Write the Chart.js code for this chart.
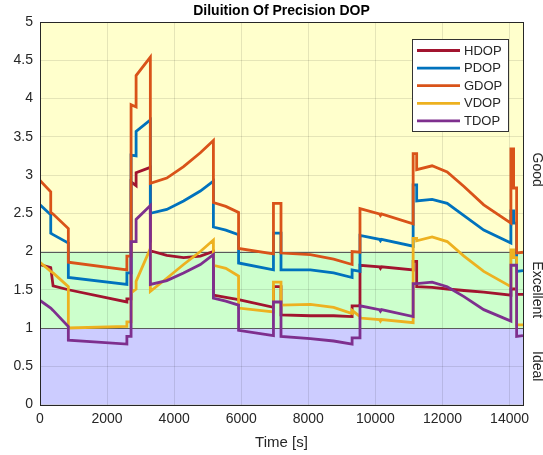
<!DOCTYPE html>
<html>
<head>
<meta charset="utf-8">
<script src="https://cdn.jsdelivr.net/npm/chart.js@4/dist/chart.umd.min.js"></script>
<style>
  html, body { margin: 0; padding: 0; background: #fff; }
  #wrap { width: 543px; height: 455px; }
</style>
</head>
<body>
<div id="wrap"><canvas id="dopChart" width="543" height="455"></canvas></div>
<script>
// time stamps [s] (repeated value = vertical step)
var timeS = [0, 320, 320, 390, 845, 845, 2590, 2590, 2715, 2715, 2865, 2865, 3290, 3290,
  3780, 4280, 4780, 5170, 5170, 5540, 5920, 5920, 6960, 6960, 7185, 7185, 8060, 8755,
  9305, 9305, 9540, 9540, 10120, 10150, 10180, 11125, 11125, 11230, 11230, 11690, 12140,
  12640, 13230, 14040, 14040, 14120, 14120, 14210, 14210, 14400];

var hdop = [1.83, 1.79, 1.79, 1.55, 1.50, 1.50, 1.34, 1.38, 1.38, 2.91, 2.86, 3.03, 3.10, 2.01,
  1.95, 1.92, 1.94, 2.00, 1.43, 1.40, 1.37, 1.37, 1.27, 1.54, 1.54, 1.17, 1.16, 1.16,
  1.15, 1.29, 1.29, 1.82, 1.80, 1.78, 1.80, 1.76, 1.87, 1.87, 1.54, 1.53, 1.51,
  1.49, 1.47, 1.43, 1.51, 1.51, 1.51, 1.51, 1.44, 1.44];

var pdop = [2.61, 2.48, 2.24, 2.22, 2.11, 1.66, 1.57, 1.72, 1.72, 3.26, 3.25, 3.57, 3.72, 2.50,
  2.55, 2.66, 2.79, 2.92, 2.32, 2.28, 2.22, 1.85, 1.76, 2.24, 2.24, 1.76, 1.76, 1.72,
  1.66, 1.76, 1.74, 2.21, 2.16, 2.14, 2.16, 2.07, 2.87, 2.87, 2.66, 2.68, 2.63,
  2.47, 2.28, 2.11, 2.53, 2.53, 2.37, 2.37, 1.74, 1.75];

var gdop = [2.93, 2.78, 2.51, 2.49, 2.30, 1.86, 1.76, 1.94, 1.94, 3.92, 3.89, 4.30, 4.54, 2.89,
  2.96, 3.11, 3.29, 3.45, 2.64, 2.59, 2.51, 2.04, 1.97, 2.63, 2.63, 1.98, 1.96, 1.90,
  1.83, 2.00, 1.99, 2.56, 2.49, 2.47, 2.49, 2.36, 3.28, 3.28, 3.07, 3.12, 3.04,
  2.85, 2.61, 2.37, 3.34, 3.34, 2.83, 2.83, 1.98, 1.99];

var vdop = [1.86, 1.74, 1.74, 1.72, 1.54, 1.00, 1.02, 1.08, 1.08, 1.46, 1.51, 1.61, 2.04, 1.48,
  1.65, 1.83, 2.00, 2.15, 1.82, 1.78, 1.68, 1.26, 1.21, 1.60, 1.60, 1.30, 1.31, 1.27,
  1.19, 1.23, 1.15, 1.13, 1.11, 1.09, 1.11, 1.07, 2.17, 2.17, 2.14, 2.19, 2.13,
  1.94, 1.74, 1.54, 2.02, 2.02, 1.92, 1.92, 1.04, 1.04];

var tdop = [1.36, 1.26, 1.26, 1.23, 1.02, 0.84, 0.79, 0.89, 0.89, 2.13, 2.13, 2.42, 2.60, 1.57,
  1.62, 1.72, 1.83, 1.96, 1.39, 1.35, 1.30, 0.97, 0.90, 1.34, 1.34, 0.89, 0.86, 0.83,
  0.79, 0.87, 0.87, 1.29, 1.24, 1.22, 1.24, 1.15, 1.58, 1.58, 1.58, 1.60, 1.54,
  1.41, 1.24, 1.09, 1.82, 1.82, 1.82, 1.82, 0.89, 0.90];

var seriesNames = ['HDOP', 'PDOP', 'GDOP', 'VDOP', 'TDOP'];
var seriesData = [hdop, pdop, gdop, vdop, tdop];
var seriesColors = ['#A2142F', '#0072BD', '#D95319', '#EDB120', '#7E2F8E'];

// quality zones
var zoneLow = [0, 1, 2];
var zoneHigh = [1, 2, 5];
var zoneFill = ['#CCCCFF', '#CCFFCC', '#FFFFCC'];
var zoneLabel = ['Ideal', 'Excellent', 'Good'];
var zoneLabelAt = [0.5, 1.5, 3.07];

var xTicks = [0, 2000, 4000, 6000, 8000, 10000, 12000, 14000];
var xMax = 14400;
var yTicks = [0, 0.5, 1, 1.5, 2, 2.5, 3, 3.5, 4, 4.5, 5];

var textColor = '#262626';
var fontName = "'Liberation Sans', Arial, sans-serif";

var datasets = [];
for (var i = 0; i < seriesNames.length; i++) {
  datasets.push({
    label: seriesNames[i],
    data: timeS.map(function(t, k) { return {x: t, y: seriesData[i][k]}; }),
    borderColor: seriesColors[i],
    backgroundColor: seriesColors[i],
    borderWidth: 2.8,
    pointRadius: 0,
    tension: 0,
    fill: false,
    order: seriesNames.length - i
  });
}

// zone backgrounds, frame, title, legend, side labels
var dopPlugin = {
  id: 'dopPlugin',
  beforeDraw: function(chart) {
    var ctx = chart.ctx, a = chart.chartArea, y = chart.scales.y;
    ctx.save();
    for (var i = 0; i < zoneLow.length; i++) {
      var top = y.getPixelForValue(zoneHigh[i]), bot = y.getPixelForValue(zoneLow[i]);
      ctx.fillStyle = zoneFill[i];
      ctx.fillRect(a.left, top, a.right - a.left, bot - top);
    }
    ctx.restore();
  },
  beforeDatasetsDraw: function(chart) {
    var ctx = chart.ctx, a = chart.chartArea, y = chart.scales.y;
    ctx.save();
    ctx.strokeStyle = '#5a5a5a';
    ctx.lineWidth = 1;
    [1, 2].forEach(function(v) {
      var py = Math.round(y.getPixelForValue(v)) + 0.5;
      ctx.beginPath();
      ctx.moveTo(a.left, py);
      ctx.lineTo(a.right, py);
      ctx.stroke();
    });
    ctx.restore();
  },
  afterDraw: function(chart) {
    var ctx = chart.ctx, a = chart.chartArea, y = chart.scales.y;
    ctx.save();
    // axes box
    ctx.strokeStyle = textColor;
    ctx.lineWidth = 1;
    ctx.strokeRect(Math.round(a.left) + 0.5, Math.round(a.top) + 0.5,
      Math.round(a.right - a.left), Math.round(a.bottom - a.top));

    // title
    ctx.fillStyle = '#000';
    ctx.font = 'bold 14px ' + fontName;
    ctx.textAlign = 'center';
    ctx.textBaseline = 'middle';
    ctx.fillText('Diluition Of Precision DOP', (a.left + a.right) / 2, 11.5);

    // legend
    var lx = 412.5, ly = 39.5, lw = 96, lh = 92;
    ctx.fillStyle = '#fff';
    ctx.fillRect(lx, ly, lw, lh);
    ctx.strokeStyle = '#333';
    ctx.lineWidth = 1;
    ctx.strokeRect(lx, ly, lw, lh);
    ctx.font = '13px ' + fontName;
    ctx.textAlign = 'left';
    for (var i = 0; i < seriesNames.length; i++) {
      var ry = 50.5 + i * 17.6;
      ctx.strokeStyle = seriesColors[i];
      ctx.lineWidth = 2.8;
      ctx.beginPath();
      ctx.moveTo(417, ry);
      ctx.lineTo(460, ry);
      ctx.stroke();
      ctx.fillStyle = textColor;
      ctx.fillText(seriesNames[i], 464, ry + 0.5);
    }

    // zone names on the right side
    ctx.font = '14px ' + fontName;
    ctx.textAlign = 'center';
    ctx.fillStyle = textColor;
    for (var j = 0; j < zoneLabel.length; j++) {
      ctx.save();
      ctx.translate(536.5, y.getPixelForValue(zoneLabelAt[j]));
      ctx.rotate(Math.PI / 2);
      ctx.fillText(zoneLabel[j], 0, 0);
      ctx.restore();
    }
    ctx.restore();
  }
};

var ctx = document.getElementById('dopChart').getContext('2d');
var dopChart = new Chart(ctx, {
  type: 'line',
  data: { datasets: datasets },
  options: {
    responsive: false,
    animation: false,
    layout: { padding: { top: 22, right: 20, left: 0, bottom: 0 } },
    plugins: {
      legend: { display: false },
      title: { display: false },
      tooltip: { enabled: false }
    },
    scales: {
      x: {
        type: 'linear',
        min: 0,
        max: xMax,
        afterFit: function(scale) { scale.height = 50.5; },
        afterBuildTicks: function(scale) {
          scale.ticks = xTicks.map(function(v) { return {value: v}; });
        },
        ticks: {
          autoSkip: false,
          maxRotation: 0,
          padding: 6,
          color: textColor,
          font: { size: 14, family: fontName },
          callback: function(v) { return String(v); }
        },
        grid: { color: 'rgba(0,0,0,0.1)', drawTicks: false },
        border: { display: false },
        title: {
          display: true,
          text: 'Time [s]',
          color: textColor,
          font: { size: 15, family: fontName },
          padding: { top: 0, bottom: 3 }
        }
      },
      y: {
        min: yTicks[0],
        max: yTicks[yTicks.length - 1],
        afterFit: function(scale) { scale.width = 40; },
        afterBuildTicks: function(scale) {
          scale.ticks = yTicks.map(function(v) { return {value: v}; });
        },
        ticks: {
          autoSkip: false,
          padding: 7,
          color: textColor,
          font: { size: 14, family: fontName },
          callback: function(v) { return String(v); }
        },
        grid: { color: 'rgba(0,0,0,0.1)', drawTicks: false },
        border: { display: false }
      }
    }
  },
  plugins: [dopPlugin]
});
</script>
</body>
</html>
